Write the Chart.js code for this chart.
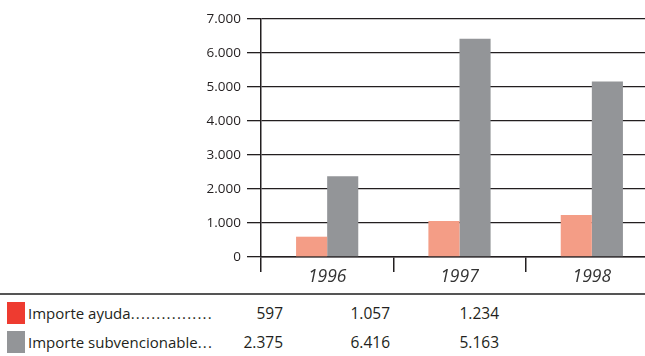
<!DOCTYPE html>
<html>
<head>
<meta charset="utf-8">
<script src="https://cdn.jsdelivr.net/npm/chart.js@4.4.0/dist/chart.umd.min.js"></script>
<style>
  body { margin:0; width:645px; height:356px; overflow:hidden; background:#fff; font-family:"Open Sans", sans-serif; }
  #wrap { position:absolute; left:0; top:0; width:660px; height:290px; }
  #tabla { position:absolute; left:0; top:293px; width:645px; border-top:2px solid #555; }
  .fila { position:absolute; left:0; height:24px; width:645px; }
  .sw { position:absolute; left:7px; width:18px; height:22px; }
  .lab { position:absolute; left:28px; font-size:15px; color:#231f20; white-space:nowrap; line-height:22px; }
  .lab span { letter-spacing:1.2px; }
  .val { position:absolute; font-size:15.5px; color:#231f20; text-align:right; width:80px; line-height:22px; }
</style>
</head>
<body>
<div id="wrap"><canvas id="myChart" width="660" height="290"></canvas></div>
<div id="tabla"></div>
<script>
// datos
var anios = ['1996', '1997', '1998'];
var importeAyuda = [597, 1057, 1234];
var importeSubvencionable = [2375, 6416, 5163];
var etiquetasSerie = ['Importe ayuda', 'Importe subvencionable'];
var puntos = ['................', '...'];
var coloresBarra = ['#f49d86', '#939598'];
var coloresLeyenda = ['#ee3b30', '#939598'];

function miles(v) {
  return v.toString().replace(/\B(?=(\d{3})+(?!\d))/g, '.');
}

// tabla de abajo
var tabla = document.getElementById('tabla');
var series = [importeAyuda, importeSubvencionable];
var colDerecha = [283, 390, 499];
for (var r = 0; r < series.length; r++) {
  var fila = document.createElement('div');
  fila.className = 'fila';
  fila.style.top = (7 + r * 29) + 'px';
  var html = '<div class="sw" style="background:' + coloresLeyenda[r] + '"></div>';
  html += '<div class="lab">' + etiquetasSerie[r] + '<span>' + puntos[r] + '</span></div>';
  for (var c = 0; c < anios.length; c++) {
    html += '<div class="val" style="left:' + (colDerecha[c] - 80) + 'px">' + miles(series[r][c]) + '</div>';
  }
  fila.innerHTML = html;
  tabla.appendChild(fila);
}

var ctx = document.getElementById('myChart').getContext('2d');
var myChart = new Chart(ctx, {
  type: 'bar',
  data: {
    labels: anios,
    datasets: [{
      label: 'Importe ayuda',
      data: importeAyuda,
      backgroundColor: coloresBarra[0],
      categoryPercentage: 0.47,
      barPercentage: 1
    }, {
      label: 'Importe subvencionable',
      data: importeSubvencionable,
      backgroundColor: coloresBarra[1],
      categoryPercentage: 0.47,
      barPercentage: 1
    }]
  },
  options: {
    responsive: false,
    animation: false,
    layout: { padding: { top: 19, right: 2, left: 0, bottom: 0 } },
    plugins: { legend: { display: false }, tooltip: { enabled: false } },
    scales: {
      x: {
        border: { color: '#231f20', width: 1.5 },
        grid: { offset: true, drawOnChartArea: false, color: '#231f20', lineWidth: 1.5, tickLength: 15 },
        ticks: { color: '#333', padding: -5, font: { family: 'Open Sans', size: 17.5, style: 'italic' } },
        afterFit: function (s) { s.height = 33; }
      },
      y: {
        min: 0, max: 7000,
        border: { color: '#231f20', width: 1.5 },
        grid: { color: '#231f20', lineWidth: 1.3, tickLength: 14 },
        ticks: {
          stepSize: 1000, color: '#231f20', padding: 6,
          font: { family: 'Open Sans', size: 13.5 },
          callback: function (v) { return miles(v); }
        },
        afterFit: function (s) { s.width = 261; }
      }
    }
  }
});
</script>
</body>
</html>
